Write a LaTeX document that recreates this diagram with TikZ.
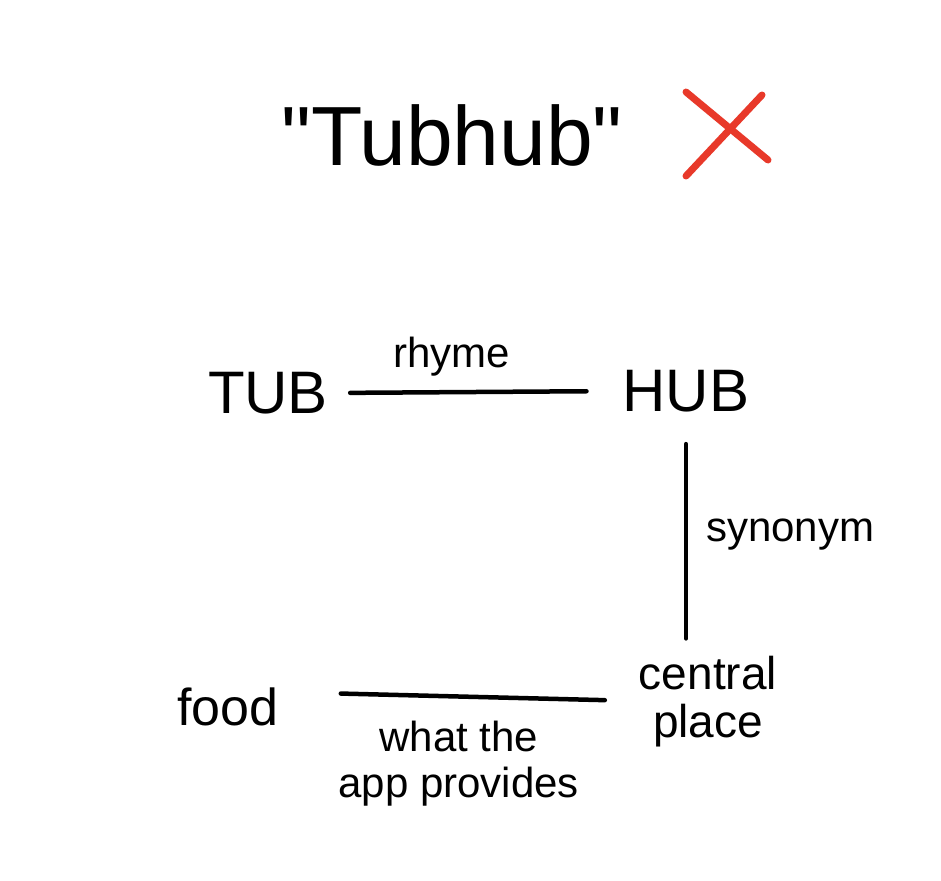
\documentclass[tikz,border=0pt]{standalone}
\usepackage{fontspec}
\setmainfont{Liberation Sans}
\newfontfamily\plainquote{Liberation Sans}
\definecolor{xred}{HTML}{E8392A}
\begin{document}
\begin{tikzpicture}[x=1pt,y=-1pt,
  word/.style={inner sep=0pt,font=\fontsize{60}{64}\selectfont},
  lbl/.style={inner sep=0pt,font=\fontsize{42}{46}\selectfont,align=center},
  link/.style={line width=4.5pt,line cap=round}]
\useasboundingbox[fill=white] (0,0) rectangle (941,880);
\node[inner sep=0pt,font=\plainquote\fontsize{84}{88}\selectfont] (title) at (452,135) {"Tubhub"};
\draw[xred,line width=7pt,line cap=round] (686,92) -- (768,160);
\draw[xred,line width=7pt,line cap=round] (762,95) -- (686,176);
\node[word] (tub) at (268,393) {TUB};
\node[word] (hub) at (686,391) {HUB};
\node[word,font=\fontsize{52}{56}\selectfont] (food) at (228,707) {food};
\node[lbl,font=\fontsize{46}{48}\selectfont,align=center] (cp) at (708,702) {central\\place};
\draw[link,shorten <=22pt,shorten >=36pt] (tub.east) -- node[lbl,above=14pt,pos=0.42] {rhyme} (hub.west);
\draw[link,shorten <=32pt,shorten >=18pt] (hub.south) -- node[lbl,right=18pt] {synonym} (cp.north -| hub.south);
\draw[link,shorten <=62pt,shorten >=34pt] ([yshift=15pt]food.east) -- node[lbl,below=22pt] {what the\\app provides} ([yshift=1pt]cp.west);
\end{tikzpicture}
\end{document}
